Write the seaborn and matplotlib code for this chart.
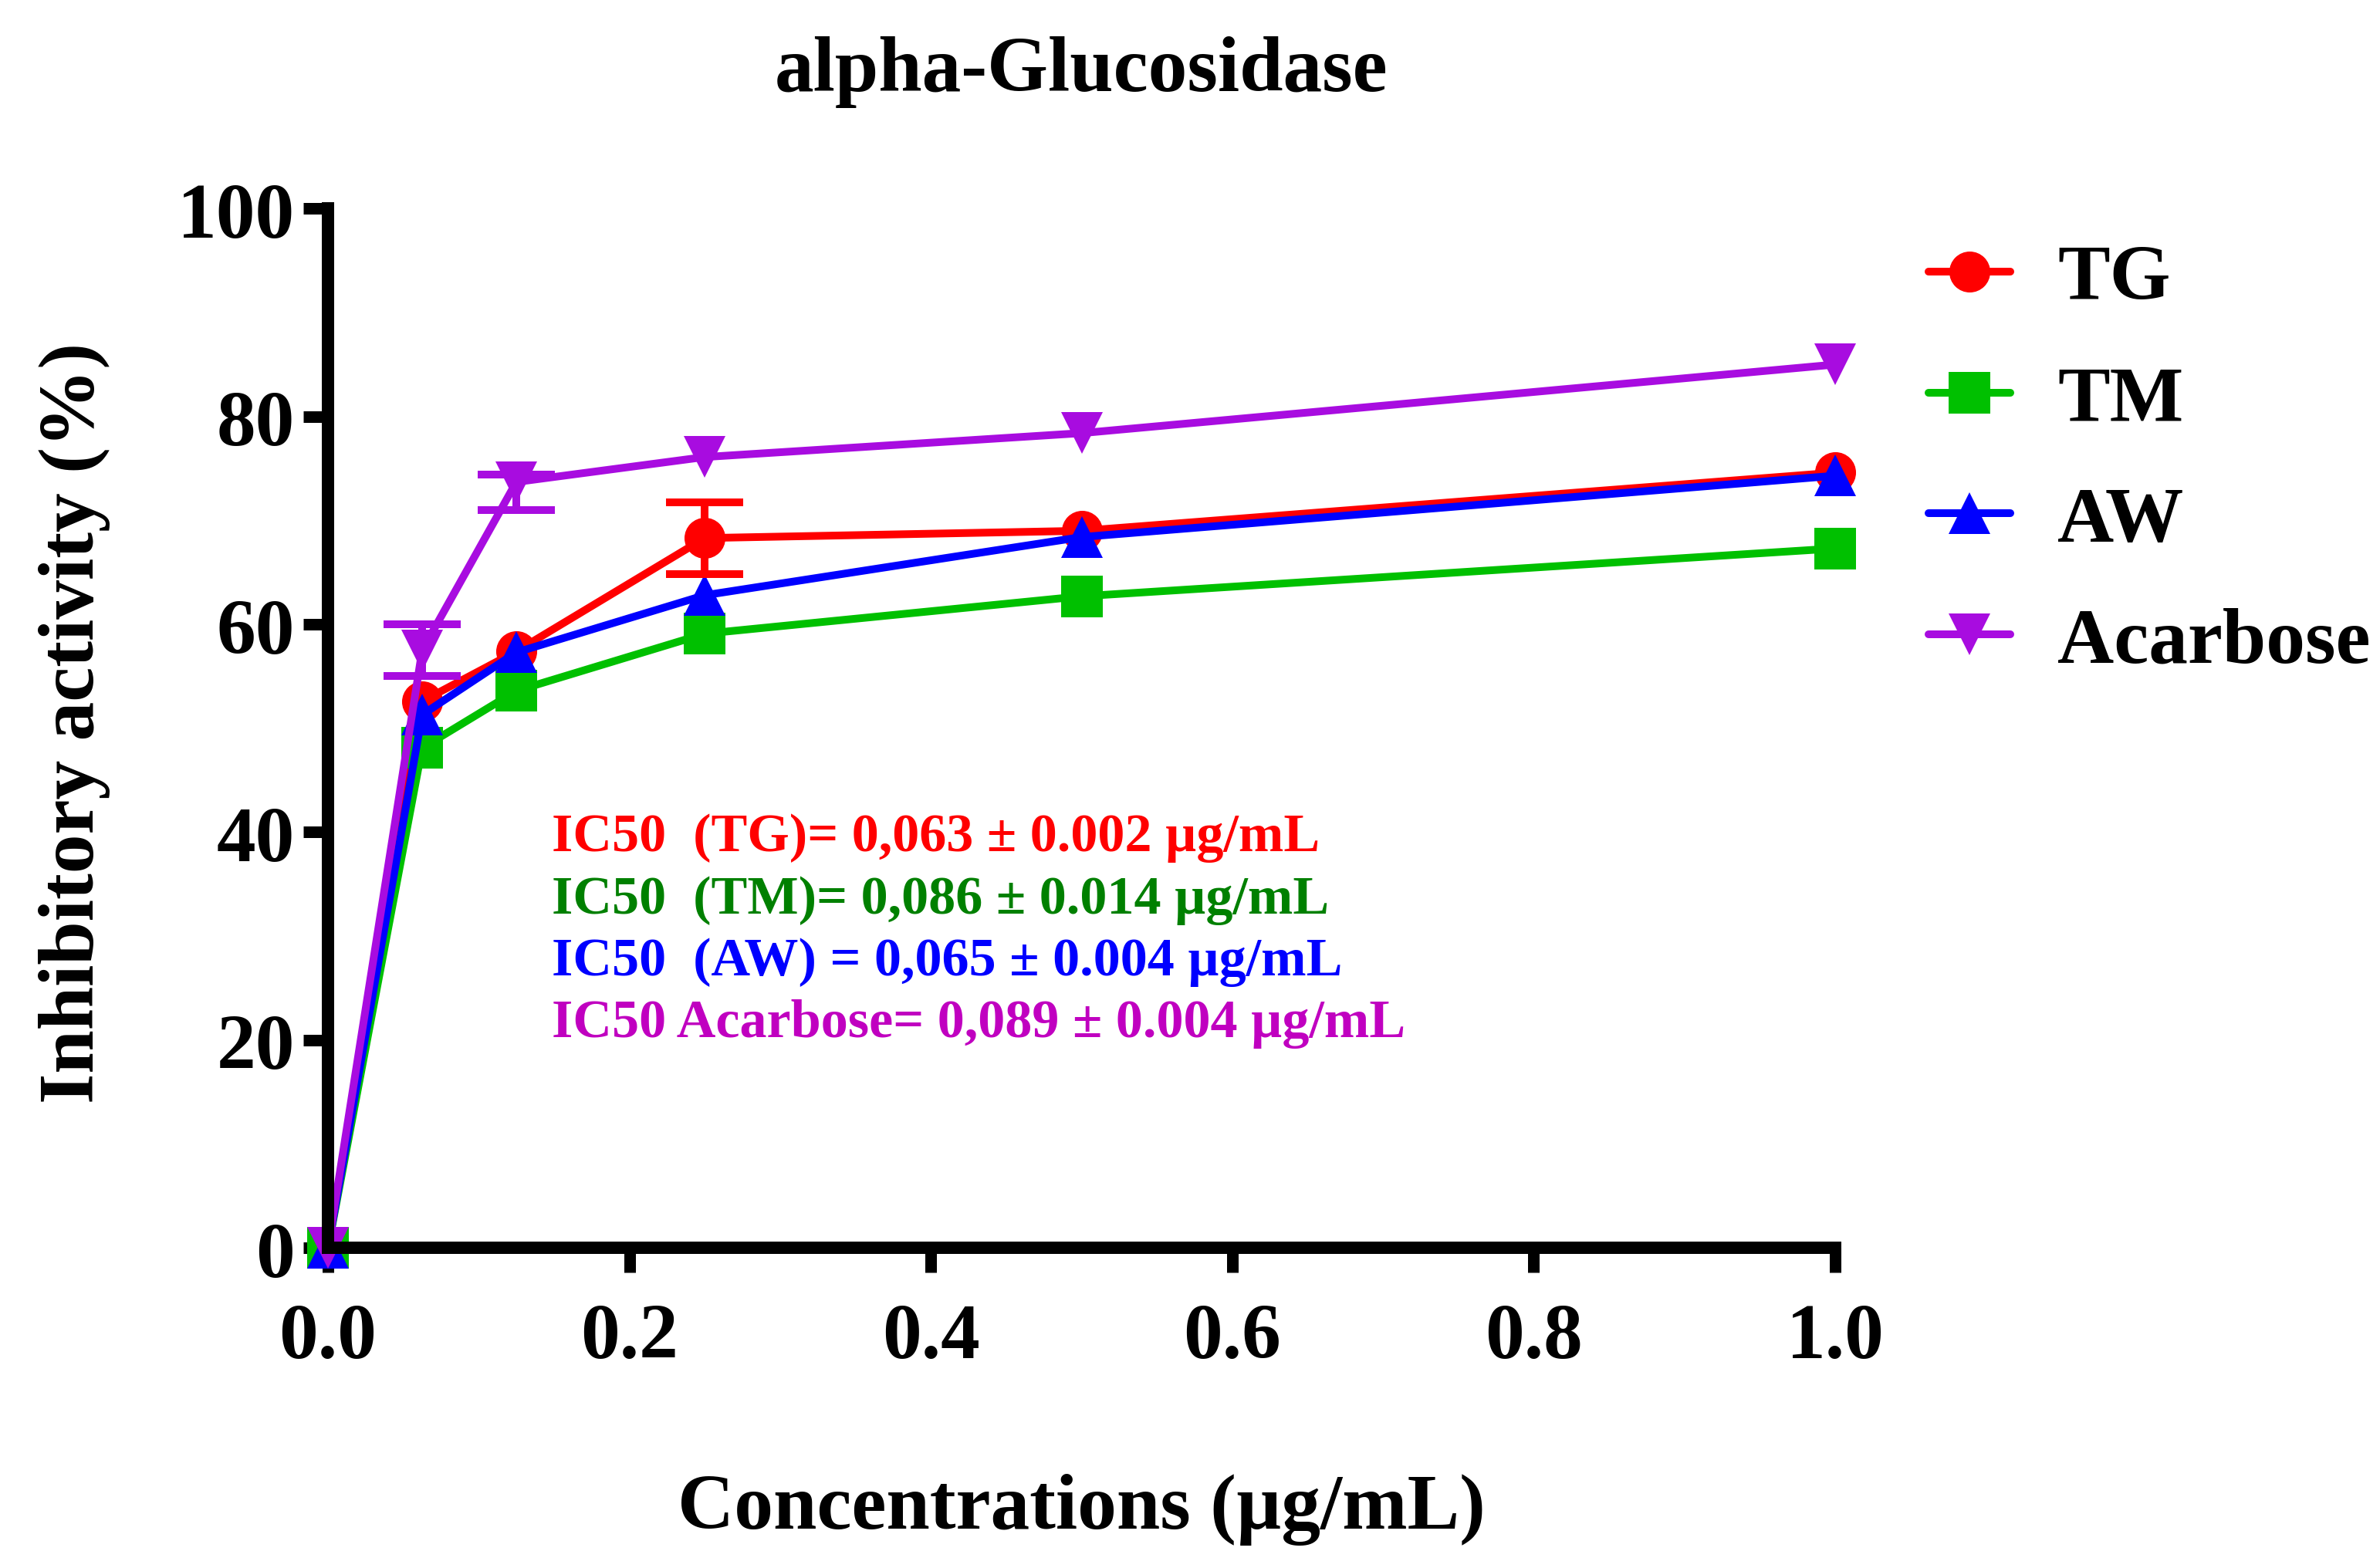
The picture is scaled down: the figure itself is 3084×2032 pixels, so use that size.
import numpy as np
import pandas as pd
import matplotlib
matplotlib.use("Agg")
import matplotlib.pyplot as plt
import seaborn as sns

# ---- data ----
concentrations = [0.0, 0.0625, 0.125, 0.25, 0.5, 1.0]
samples = ["TG", "TM", "AW", "Acarbose"]
tg_values = [0.0, 52.6, 57.4, 68.3, 69.0, 74.6]
tm_values = [0.0, 48.1, 53.6, 59.1, 62.7, 67.3]
aw_values = [0.0, 51.3, 57.3, 62.8, 68.4, 74.3]
acarbose_values = [0.0, 57.5, 73.7, 76.1, 78.4, 85.0]
tg_err_low = [0.0, 0.0, 0.0, 3.45, 0.0, 0.0]
tg_err_high = [0.0, 0.0, 0.0, 3.45, 0.0, 0.0]
acarbose_err_low = [0.0, 2.5, 2.7, 0.0, 0.0, 0.0]
acarbose_err_high = [0.0, 2.5, 0.7, 0.0, 0.0, 0.0]

x_ticks = [0.0, 0.2, 0.4, 0.6, 0.8, 1.0]
y_ticks = [0, 20, 40, 60, 80, 100]

title = "alpha-Glucosidase"
x_label = "Concentrations (µg/mL)"
y_label = "Inhibitory activity (%)"
ic50_lines = [
    "IC50  (TG)= 0,063 ± 0.002 µg/mL",
    "IC50  (TM)= 0,086 ± 0.014 µg/mL",
    "IC50  (AW) = 0,065 ± 0.004 µg/mL",
    "IC50 Acarbose= 0,089 ± 0.004 µg/mL",
]

series_colors = ["#FF0000", "#00C000", "#0000FF", "#A80CE0"]
text_colors = ["#FF0000", "#008000", "#0000FF", "#C000C0"]
markers = ["o", "s", "^", "v"]

# ---- style ----
sns.set_style("white")
plt.rcParams["font.family"] = ["Liberation Serif", "DejaVu Serif"]
plt.rcParams["font.weight"] = "bold"
plt.rcParams["axes.labelweight"] = "bold"
plt.rcParams["text.color"] = "black"
plt.rcParams["axes.labelcolor"] = "black"
plt.rcParams["xtick.color"] = "black"
plt.rcParams["ytick.color"] = "black"

df = pd.DataFrame({
    "Concentration": concentrations * 4,
    "Activity": tg_values + tm_values + aw_values + acarbose_values,
    "Sample": [s for s in samples for _ in concentrations],
})

fig = plt.figure(figsize=(30.84, 20.33), dpi=100)
ax = fig.add_axes([0.1378, 0.2041, 0.6333, 0.6624])

LW = 7.2
MS = 38.2
sns.lineplot(
    data=df, x="Concentration", y="Activity", hue="Sample", style="Sample",
    hue_order=samples, style_order=samples, palette=series_colors,
    markers=markers, dashes=False, legend=False, errorbar=None, ax=ax,
    linewidth=LW, markersize=MS, markeredgewidth=0, clip_on=False,
)
lines = list(ax.get_lines())[:4]
for ln in lines:
    ln.set_clip_on(False)


def draw_err(values, lo, hi, color):
    idx = [i for i in range(len(values)) if lo[i] > 0 or hi[i] > 0]
    ax.errorbar([concentrations[i] for i in idx], [values[i] for i in idx],
                yerr=[[lo[i] for i in idx], [hi[i] for i in idx]], fmt="none",
                ecolor=color, elinewidth=LW, capsize=36, capthick=LW, clip_on=False)


draw_err(tg_values, tg_err_low, tg_err_high, series_colors[0])
draw_err(acarbose_values, acarbose_err_low, acarbose_err_high, series_colors[3])

ax.set_xlim(0, 1.0)
ax.set_ylim(0, 100)
ax.set_xticks(x_ticks)
ax.set_xticklabels([f"{v:.1f}" for v in x_ticks])
ax.set_yticks(y_ticks)
ax.set_yticklabels([str(v) for v in y_ticks])

for side in ["top", "right"]:
    ax.spines[side].set_visible(False)
for side in ["left", "bottom"]:
    ax.spines[side].set_linewidth(11.5)
    ax.spines[side].set_color("black")
    ax.spines[side].set_capstyle("projecting")

ax.tick_params(axis="both", which="major", direction="out", length=23, width=10.8,
               colors="black", labelsize=73, bottom=True, left=True,
               top=False, right=False)
ax.tick_params(axis="x", pad=28)
ax.tick_params(axis="y", pad=8)
for lab in ax.get_xticklabels() + ax.get_yticklabels():
    lab.set_fontweight("bold")

ax.set_xlabel(x_label, fontsize=73, fontweight="bold", color="black")
ax.set_ylabel(y_label, fontsize=73, fontweight="bold", color="black")
ax.xaxis.set_label_coords(0.5, -0.2169)
ax.yaxis.set_label_coords(-0.1444, 0.506)

ax.text(0.5, 1.114, title, transform=ax.transAxes, ha="center", va="baseline",
        fontsize=73, fontweight="bold", color="black")

ic50_y = [0.3825, 0.3224, 0.2629, 0.2035]
for txt, col, yy in zip(ic50_lines, text_colors, ic50_y):
    ax.text(0.1485, yy, txt, transform=ax.transAxes, ha="left", va="baseline",
            fontsize=50.5, fontweight="bold", color=col)

leg = fig.legend(lines, samples, loc="upper left", bbox_to_anchor=(0.8103, 0.844),
                 bbox_transform=fig.transFigure, frameon=False, fontsize=73,
                 handlelength=1.05, handletextpad=0.6, labelspacing=0.63,
                 borderpad=0, borderaxespad=0, numpoints=1)
for t in leg.get_texts():
    t.set_fontweight("bold")
    t.set_color("black")

fig.savefig("out.png", dpi=100, facecolor="white")
